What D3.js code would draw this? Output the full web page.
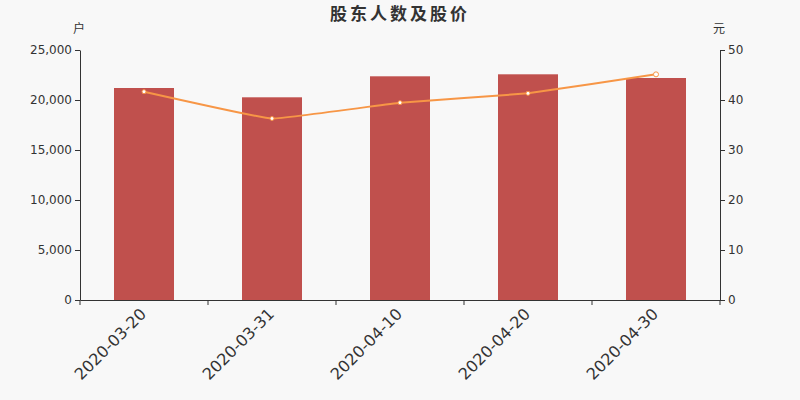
<!DOCTYPE html>
<html>
<head>
<meta charset="utf-8">
<script src="https://cdn.jsdelivr.net/npm/d3@7"></script>
<style>
  body { margin: 0; background: #f8f8f8; }
  svg { display: block; font-family: "DejaVu Sans", "Noto Sans CJK SC", sans-serif; }
</style>
</head>
<body>
<svg id="chart" width="800" height="400"></svg>
<script>
const dates = ["2020-03-20", "2020-03-31", "2020-04-10", "2020-04-20", "2020-04-30"];
const holders = [21200, 20270, 22370, 22570, 22200];
const prices = [41.67, 36.3, 39.47, 41.33, 45.13];
const leftTicks = [0, 5000, 10000, 15000, 20000, 25000];
const rightTicks = [0, 10, 20, 30, 40, 50];

const margin = { top: 50, right: 80, bottom: 100, left: 80 };
const width = 800 - margin.left - margin.right;
const height = 400 - margin.top - margin.bottom;

const svg = d3.select("#chart");
svg.append("rect").attr("width", 800).attr("height", 400).attr("fill", "#f8f8f8");

const g = svg.append("g").attr("transform", `translate(${margin.left},${margin.top})`);

const x = d3.scaleBand().domain(dates).range([0, width]);
const yL = d3.scaleLinear().domain([0, 25000]).range([height, 0]);
const yR = d3.scaleLinear().domain([0, 50]).range([height, 0]);

// title
svg.append("text")
  .attr("x", 400).attr("y", 20)
  .attr("text-anchor", "middle")
  .attr("font-size", 17).attr("font-weight", "bold")
  .attr("letter-spacing", 3)
  .attr("fill", "#333")
  .text("股东人数及股价");

// unit labels
svg.append("text").attr("x", 79).attr("y", 33).attr("text-anchor", "middle")
  .attr("font-size", 12).attr("fill", "#333").text("户");
svg.append("text").attr("x", 719).attr("y", 33).attr("text-anchor", "middle")
  .attr("font-size", 12).attr("fill", "#333").text("元");

// bars
g.selectAll("rect.bar")
  .data(holders)
  .enter().append("rect")
  .attr("class", "bar")
  .attr("x", (d, i) => x(dates[i]) + x.bandwidth() / 2 - 30)
  .attr("width", 60)
  .attr("y", d => yL(d))
  .attr("height", d => height - yL(d))
  .attr("fill", "#c0504d");

// axes
const styleAxis = sel => {
  sel.select(".domain").attr("stroke", "#333");
  sel.selectAll(".tick line").attr("stroke", "#333");
  sel.selectAll(".tick text").attr("fill", "#333").attr("font-size", 12)
    .attr("font-family", "DejaVu Sans, sans-serif");
};

g.append("g")
  .call(d3.axisLeft(yL).tickValues(leftTicks).tickSize(5).tickSizeOuter(0)
    .tickFormat(d3.format(",")))
  .call(styleAxis);

g.append("g")
  .attr("transform", `translate(${width},0)`)
  .call(d3.axisRight(yR).tickValues(rightTicks).tickSize(5).tickSizeOuter(0))
  .call(styleAxis);

const bottomAxis = g.append("g")
  .attr("transform", `translate(0,${height})`)
  .call(d3.axisBottom(x).tickSize(0).tickSizeOuter(0))
  .call(styleAxis);

// category boundary ticks
const boundaries = dates.map(d => x(d)).concat([width]);
bottomAxis.selectAll("line.bound")
  .data(boundaries)
  .enter().append("line")
  .attr("class", "bound")
  .attr("x1", d => d).attr("x2", d => d)
  .attr("y1", 0).attr("y2", 5)
  .attr("stroke", "#333");

bottomAxis.selectAll(".tick text")
  .attr("font-size", 16)
  .attr("text-anchor", "end")
  .attr("dx", 0).attr("dy", 0)
  .attr("transform", "translate(1,13) rotate(-45)");

// price line
const line = d3.line()
  .x((d, i) => x(dates[i]) + x.bandwidth() / 2)
  .y(d => yR(d))
  .curve(d3.curveCardinal.tension(0.75));

g.append("path")
  .datum(prices)
  .attr("fill", "none")
  .attr("stroke", "#f79646")
  .attr("stroke-width", 2)
  .attr("d", line);

g.selectAll("circle.pt")
  .data(prices)
  .enter().append("circle")
  .attr("class", "pt")
  .attr("cx", (d, i) => x(dates[i]) + x.bandwidth() / 2)
  .attr("cy", d => yR(d))
  .attr("r", (d, i) => i === prices.length - 1 ? 2.5 : 2)
  .attr("fill", "#fff")
  .attr("stroke", "#f79646")
  .attr("stroke-width", 1);
</script>
</body>
</html>
